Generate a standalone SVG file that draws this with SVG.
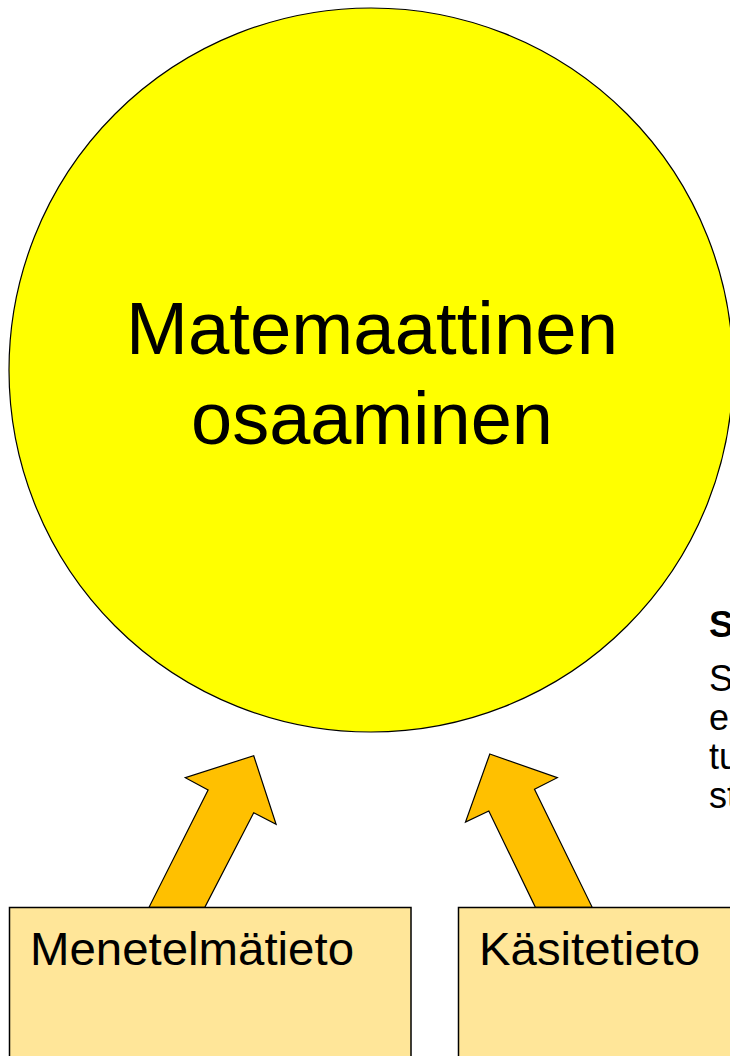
<svg xmlns="http://www.w3.org/2000/svg" width="730" height="1056" viewBox="0 0 730 1056">
<style>
.t{font-family:"Liberation Sans",Arial,sans-serif;fill:#000}
.s{font-size:36px}
.arrow{fill:#FFC000;stroke:#000;stroke-width:1.2;stroke-linejoin:miter}
.box{fill:#FFE699;stroke:#000;stroke-width:1.5}
</style>
<rect width="730" height="1056" fill="#fff"/>
<g id="node-main">
<circle cx="371" cy="370" r="362" fill="#FFFF00" stroke="#000" stroke-width="1.2"/>
<text class="t" x="372" y="354" font-size="74" text-anchor="middle" textLength="492" lengthAdjust="spacingAndGlyphs">Matemaattinen</text>
<text class="t" x="372" y="444" font-size="74" text-anchor="middle" textLength="362" lengthAdjust="spacingAndGlyphs">osaaminen</text>
</g>
<g id="node-side">
<text class="t" x="709" y="637" font-size="37" font-weight="bold">S</text>
<text class="t s" x="709" y="691">S</text>
<text class="t s" x="709" y="730">e</text>
<text class="t s" x="709" y="769">tu</text>
<text class="t s" x="709" y="808">st</text>
</g>
<g id="connectors">
<polygon class="arrow" points="253.7,755.7 276.1,824.3 253.7,812.7 204.8,907.3 149,907.3 208.1,790 185.3,777.7"/>
<polygon class="arrow" points="489.8,754 557.3,777.7 534.5,789.3 592.2,907.3 535.4,907.3 488.8,811 465.5,822"/>
</g>
<g id="node-menetelma">
<rect class="box" x="9.5" y="907.5" width="401.5" height="160"/>
<text class="t" x="30" y="965" font-size="47" textLength="324" lengthAdjust="spacingAndGlyphs">Menetelmätieto</text>
</g>
<g id="node-kasite">
<rect class="box" x="458.5" y="907.5" width="300" height="160"/>
<text class="t" x="479" y="965" font-size="47" textLength="221" lengthAdjust="spacingAndGlyphs">Käsitetieto</text>
</g>
</svg>
